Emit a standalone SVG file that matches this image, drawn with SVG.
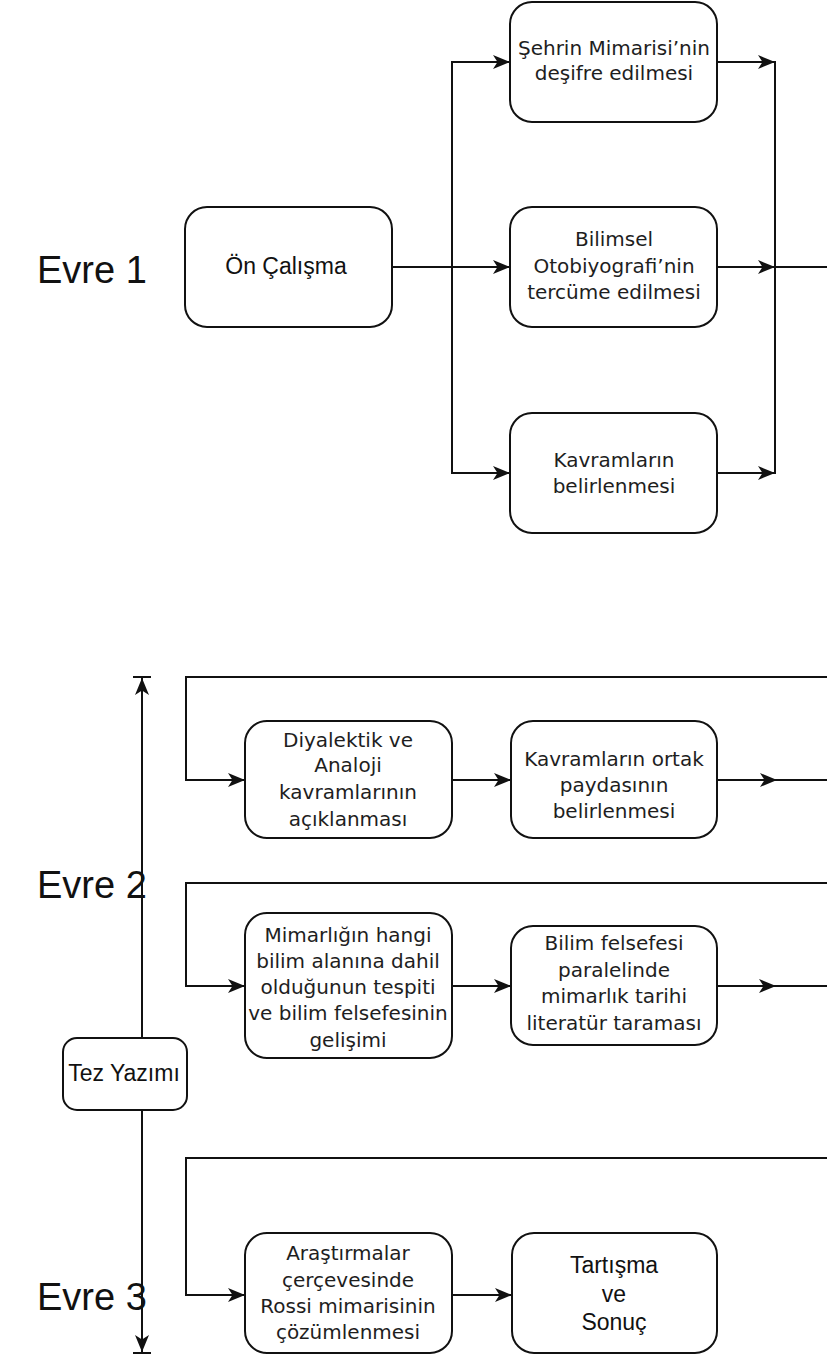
<svg xmlns="http://www.w3.org/2000/svg" width="827" height="1357" viewBox="0 0 827 1357">
  <style>
    .box { fill: #ffffff; stroke: #111111; stroke-width: 2; }
    .ln { fill: none; stroke: #111111; stroke-width: 2; }
    .geo { font-family: "DejaVu Sans", "Noto Sans", sans-serif; font-size: 20px; fill: #1e1e1e; text-anchor: middle; }
    .ar { font-family: "Liberation Sans", Arial, sans-serif; fill: #111111; text-anchor: middle; }
    .phase { font-family: "Liberation Sans", Arial, sans-serif; font-size: 38px; fill: #111111; }
  </style>
  <defs>
    <marker id="head" markerUnits="userSpaceOnUse" markerWidth="20" markerHeight="16" refX="17" refY="7" orient="auto-start-reverse">
      <path d="M0,0 L17,7 L0,14 L4.5,7 Z" fill="#111111"/>
    </marker>
  </defs>

  <rect width="827" height="1357" fill="#ffffff"/>

  <!-- phase labels -->
  <g id="labels">
    <text class="phase" x="37" y="283">Evre 1</text>
    <text class="phase" x="37" y="898">Evre 2</text>
    <text class="phase" x="37" y="1310">Evre 3</text>
  </g>

  <!-- connectors -->
  <g id="connectors">
    <!-- phase 1: fan-out -->
    <line class="ln" x1="392" y1="267" x2="510" y2="267" marker-end="url(#head)"/>
    <polyline class="ln" points="452,267 452,62 510,62" marker-end="url(#head)"/>
    <polyline class="ln" points="452,267 452,473 510,473" marker-end="url(#head)"/>
    <!-- phase 1: fan-in -->
    <line class="ln" x1="717" y1="62" x2="775" y2="62" marker-end="url(#head)"/>
    <line class="ln" x1="717" y1="267" x2="775" y2="267" marker-end="url(#head)"/>
    <line class="ln" x1="717" y1="473" x2="775" y2="473" marker-end="url(#head)"/>
    <line class="ln" x1="775" y1="61" x2="775" y2="474"/>
    <line class="ln" x1="775" y1="267" x2="827" y2="267"/>

    <!-- phase 2, row 1 -->
    <polyline class="ln" points="827,677 186,677 186,780 245,780" marker-end="url(#head)"/>
    <line class="ln" x1="452" y1="780" x2="511" y2="780" marker-end="url(#head)"/>
    <line class="ln" x1="717" y1="780" x2="777" y2="780" marker-end="url(#head)"/>
    <line class="ln" x1="777" y1="780" x2="827" y2="780"/>

    <!-- phase 2, row 2 -->
    <polyline class="ln" points="827,883 186,883 186,986 245,986" marker-end="url(#head)"/>
    <line class="ln" x1="452" y1="986" x2="511" y2="986" marker-end="url(#head)"/>
    <line class="ln" x1="717" y1="986" x2="776" y2="986" marker-end="url(#head)"/>
    <line class="ln" x1="776" y1="986" x2="827" y2="986"/>

    <!-- phase 3 -->
    <polyline class="ln" points="827,1158 186,1158 186,1295 245,1295" marker-end="url(#head)"/>
    <line class="ln" x1="452" y1="1295" x2="512" y2="1295" marker-end="url(#head)"/>

    <!-- thesis writing span -->
    <line class="ln" x1="142" y1="1038" x2="142" y2="678" marker-end="url(#head)"/>
    <line class="ln" x1="142" y1="1110" x2="142" y2="1352" marker-end="url(#head)"/>
    <line class="ln" x1="133" y1="677" x2="151" y2="677"/>
    <line class="ln" x1="133" y1="1353" x2="151" y2="1353"/>
  </g>

  <!-- phase 1 nodes -->
  <g id="on-calisma">
    <rect class="box" x="185" y="207" width="207" height="120" rx="22"/>
    <text class="ar" x="286" y="274" font-size="23">Ön Çalışma</text>
  </g>
  <g id="sehrin-mimarisi">
    <rect class="box" x="510" y="2" width="207" height="120" rx="22"/>
    <text class="geo" x="614" y="55">Şehrin Mimarisi’nin</text>
    <text class="geo" x="614" y="80">deşifre edilmesi</text>
  </g>
  <g id="bilimsel-otobiyografi">
    <rect class="box" x="510" y="207" width="207" height="120" rx="22"/>
    <text class="geo" x="614" y="246">Bilimsel</text>
    <text class="geo" x="614" y="273">Otobiyografi’nin</text>
    <text class="geo" x="614" y="299">tercüme edilmesi</text>
  </g>
  <g id="kavramlar">
    <rect class="box" x="510" y="413" width="207" height="120" rx="22"/>
    <text class="geo" x="614" y="467">Kavramların</text>
    <text class="geo" x="614" y="493">belirlenmesi</text>
  </g>

  <!-- phase 2 nodes -->
  <g id="diyalektik">
    <rect class="box" x="245" y="721" width="207" height="117" rx="22"/>
    <text class="geo" x="348" y="747">Diyalektik ve</text>
    <text class="geo" x="348" y="772">Analoji</text>
    <text class="geo" x="348" y="799">kavramlarının</text>
    <text class="geo" x="348" y="826">açıklanması</text>
  </g>
  <g id="ortak-payda">
    <rect class="box" x="511" y="721" width="206" height="117" rx="22"/>
    <text class="geo" x="614" y="766">Kavramların ortak</text>
    <text class="geo" x="614" y="792">paydasının</text>
    <text class="geo" x="614" y="818">belirlenmesi</text>
  </g>
  <g id="mimarlik-bilim">
    <rect class="box" x="245" y="913" width="207" height="145" rx="22"/>
    <text class="geo" x="348" y="942">Mimarlığın hangi</text>
    <text class="geo" x="348" y="968">bilim alanına dahil</text>
    <text class="geo" x="348" y="994">olduğunun tespiti</text>
    <text class="geo" x="348" y="1020">ve bilim felsefesinin</text>
    <text class="geo" x="348" y="1047">gelişimi</text>
  </g>
  <g id="literatur">
    <rect class="box" x="511" y="926" width="206" height="119" rx="22"/>
    <text class="geo" x="614" y="950">Bilim felsefesi</text>
    <text class="geo" x="614" y="977">paralelinde</text>
    <text class="geo" x="614" y="1003">mimarlık tarihi</text>
    <text class="geo" x="614" y="1030">literatür taraması</text>
  </g>

  <!-- thesis writing -->
  <g id="tez-yazimi">
    <rect class="box" x="63" y="1038" width="124" height="72" rx="14"/>
    <text class="ar" x="124" y="1081" font-size="23">Tez Yazımı</text>
  </g>

  <!-- phase 3 nodes -->
  <g id="rossi">
    <rect class="box" x="245" y="1233" width="207" height="120" rx="22"/>
    <text class="geo" x="348" y="1260">Araştırmalar</text>
    <text class="geo" x="348" y="1287">çerçevesinde</text>
    <text class="geo" x="348" y="1313">Rossi mimarisinin</text>
    <text class="geo" x="348" y="1339">çözümlenmesi</text>
  </g>
  <g id="sonuc">
    <rect class="box" x="512" y="1233" width="205" height="120" rx="22"/>
    <text class="ar" x="614" y="1273" font-size="23">Tartışma</text>
    <text class="ar" x="614" y="1302" font-size="23">ve</text>
    <text class="ar" x="614" y="1330" font-size="23">Sonuç</text>
  </g>
</svg>
